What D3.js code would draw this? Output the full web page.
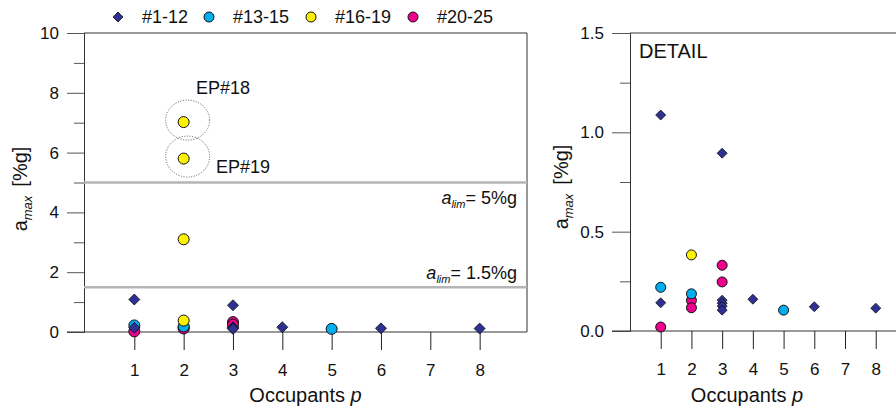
<!DOCTYPE html>
<html>
<head>
<meta charset="utf-8">
<script src="https://cdn.jsdelivr.net/npm/d3@7"></script>
<style>
  body { margin: 0; background: #fff; }
  text { font-family: "Liberation Sans", Arial, sans-serif; fill: #111; }
</style>
</head>
<body>
<svg id="chart" width="896" height="411"></svg>
<script>
// occupants on the x axis
var occupants = [1, 2, 3, 4, 5, 6, 7, 8];

// #1-12 (diamonds)
var grp1P = [1, 1, 3, 3, 3, 3, 3, 4, 6, 8];
var grp1A = [1.087, 0.142, 0.895, 0.155, 0.14, 0.125, 0.105, 0.16, 0.122, 0.115];
// #13-15
var grp2P = [1, 2, 5];
var grp2A = [0.22, 0.187, 0.105];
// #16-19
var grp3P = [2, 2, 2, 2];
var grp3A = [7.02, 5.8, 3.1, 0.383];
// #20-25
var grp4P = [1, 2, 2, 3, 3];
var grp4A = [0.02, 0.154, 0.117, 0.331, 0.247];

var groupNames = ["#1-12", "#13-15", "#16-19", "#20-25"];
var groupColors = ["#2e3192", "#00aeef", "#fff200", "#ec008c"];

var leftTicks = [0, 2, 4, 6, 8, 10];
var leftMinor = [1, 3, 5, 7, 9];
var rightTicks = [0, 0.5, 1.0, 1.5];
var rightMinor = [0.25, 0.75, 1.25];
var limits = [5, 1.5];
var limitLabels = ["5%g", "1.5%g"];

var svg = d3.select("#chart");

function groupData(P, A, gi) {
    return P.map(function(p, i){ return {p: p, a: A[i], g: gi}; });
}
var allData = []
    .concat(groupData(grp4P, grp4A, 3))
    .concat(groupData(grp2P, grp2A, 1))
    .concat(groupData(grp3P, grp3A, 2))
    .concat(groupData(grp1P, grp1A, 0));

var diamond = function(s){
    return "M0," + (-s) + "L" + s + ",0L0," + s + "L" + (-s) + ",0Z";
};

function drawPanel(cfg) {
    var x = d3.scaleLinear().domain(cfg.xDomain).range([cfg.left, cfg.right]);
    var y = d3.scaleLinear().domain(cfg.yDomain).range([cfg.bottom, cfg.top]);
    var g = svg.append("g");

    // box top / right
    g.append("line").attr("x1", cfg.left).attr("x2", cfg.right)
        .attr("y1", cfg.top).attr("y2", cfg.top).attr("stroke", "#333").attr("stroke-width", 1);
    if (cfg.rightBorder) {
        g.append("line").attr("x1", cfg.right).attr("x2", cfg.right)
            .attr("y1", cfg.top).attr("y2", cfg.bottom).attr("stroke", "#333").attr("stroke-width", 1);
    }

    // y axis major + minor
    var yMaj = g.append("g").attr("transform", "translate(" + cfg.left + ",0)")
        .call(d3.axisLeft(y).tickValues(cfg.yTicks).tickSize(cfg.majLen).tickPadding(8)
            .tickFormat(cfg.yFormat));
    var yMin = g.append("g").attr("transform", "translate(" + cfg.left + ",0)")
        .call(d3.axisLeft(y).tickValues(cfg.yMinor).tickSize(10).tickFormat(""));
    [yMaj, yMin].forEach(function(a){
        a.select(".domain").attr("stroke", "#333");
        a.selectAll(".tick line").attr("stroke", "#555");
    });
    yMin.select(".domain").remove();
    yMaj.selectAll("text").style("font-size", "17px").attr("fill", "#111");

    // x axis (baseline + hanging ticks)
    g.append("line").attr("x1", cfg.left - cfg.majLen).attr("x2", cfg.right)
        .attr("y1", cfg.bottom).attr("y2", cfg.bottom).attr("stroke", "#333");
    var xAx = g.append("g").attr("transform", "translate(0," + cfg.bottom + ")")
        .call(d3.axisBottom(x).tickValues(occupants).tickSize(18).tickPadding(14));
    xAx.select(".domain").remove();
    xAx.selectAll(".tick line").attr("stroke", "#222");
    xAx.selectAll("text").style("font-size", "17px").attr("fill", "#111");

    // x title
    var xt = g.append("text").attr("x", (cfg.left + cfg.right) / 2 + cfg.xTitleDx).attr("y", 402)
        .attr("text-anchor", "middle").style("font-size", "20px");
    xt.append("tspan").text("Occupants ");
    xt.append("tspan").style("font-style", "italic").text("p");

    // y title
    var yt = g.append("text")
        .attr("transform", "translate(" + cfg.yTitleX + "," + cfg.yTitleY + ") rotate(-90)")
        .attr("text-anchor", "middle").style("font-size", "20px");
    yt.append("tspan").text("a");
    yt.append("tspan").style("font-style", "italic").style("font-size", "13px").attr("dy", 5).text("max");
    yt.append("tspan").attr("dy", -5).attr("dx", 9).text("[%g]");

    cfg.extra && cfg.extra(g, x, y);

    // clip for points
    var cid = "clip" + cfg.left;
    svg.append("clipPath").attr("id", cid).append("rect")
        .attr("x", cfg.left).attr("y", cfg.top - 8)
        .attr("width", cfg.right - cfg.left).attr("height", cfg.bottom - cfg.top + 16);
    var pts = g.append("g").attr("clip-path", "url(#" + cid + ")");
    allData.forEach(function(d){
        if (d.a > cfg.yDomain[1]) return;
        if (d.g === 0) {
            pts.append("path").attr("d", diamond(cfg.dia))
                .attr("transform", "translate(" + x(d.p) + "," + y(d.a) + ")")
                .attr("fill", groupColors[0]).attr("stroke", "#111").attr("stroke-width", 0.8);
        } else {
            pts.append("circle").attr("cx", x(d.p)).attr("cy", y(d.a)).attr("r", cfg.rad)
                .attr("fill", groupColors[d.g]).attr("stroke", "#111").attr("stroke-width", 1);
        }
    });
}

// left panel
drawPanel({
    left: 84, right: 527, top: 33, bottom: 332,
    xDomain: [-0.02, 8.96], yDomain: [0, 10],
    yTicks: leftTicks, yMinor: leftMinor, majLen: 17,
    yFormat: d3.format("d"),
    rad: 5.5, dia: 5.5, rightBorder: true, xTitleDx: 0,
    yTitleX: 27, yTitleY: 189,
    extra: function(g, x, y){
        limits.forEach(function(v, i){
            g.append("line").attr("x1", 84).attr("x2", 527).attr("y1", y(v)).attr("y2", y(v))
                .attr("stroke", "#b5b5b5").attr("stroke-width", 2.5);
            var t = g.append("text").attr("x", 517).attr("y", y(v) + (i === 0 ? 21 : -8))
                .attr("text-anchor", "end").style("font-size", "18px");
            t.append("tspan").style("font-style", "italic").text("a");
            t.append("tspan").style("font-style", "italic").style("font-size", "11px").attr("dy", 4).text("lim");
            t.append("tspan").attr("dy", -4).text("= " + limitLabels[i]);
        });
        // dotted rings round the two big EP events
        [[7.02, 22, 20, 0], [5.8, 22, 20.5, 1]].forEach(function(e){
            g.append("ellipse").attr("cx", x(2) + 4).attr("cy", y(e[0]) - 2)
                .attr("rx", e[1]).attr("ry", e[2])
                .attr("fill", "none").attr("stroke", "#555").attr("stroke-width", 1)
                .attr("stroke-dasharray", "1,1.6");
        });
        g.append("text").attr("x", 196).attr("y", 94).style("font-size", "18px").text("EP#18");
        g.append("text").attr("x", 216).attr("y", 173).style("font-size", "18px").text("EP#19");
    }
});

// right panel (detail)
drawPanel({
    left: 630, right: 896, top: 33, bottom: 331,
    xDomain: [0, 8.66], yDomain: [0, 1.5],
    yTicks: rightTicks, yMinor: rightMinor, majLen: 18,
    yFormat: d3.format(".1f"),
    rad: 5, dia: 5, rightBorder: false, xTitleDx: -16,
    yTitleX: 568, yTitleY: 187,
    extra: function(g){
        g.append("text").attr("x", 639).attr("y", 58).style("font-size", "20px").text("DETAIL");
    }
});

// legend
var legend = svg.append("g").attr("class", "legend");
var legX = [118, 209, 311, 413];
groupNames.forEach(function(n, i){
    var lg = legend.append("g").attr("transform", "translate(" + legX[i] + ",17)");
    if (i === 0) {
        lg.append("path").attr("d", diamond(5)).attr("fill", groupColors[0])
            .attr("stroke", "#111").attr("stroke-width", 0.8);
    } else {
        lg.append("circle").attr("r", 5).attr("fill", groupColors[i])
            .attr("stroke", "#111").attr("stroke-width", 1);
    }
    lg.append("text").attr("x", 24).attr("y", 6).style("font-size", "18px").text(n);
});
</script>
</body>
</html>
